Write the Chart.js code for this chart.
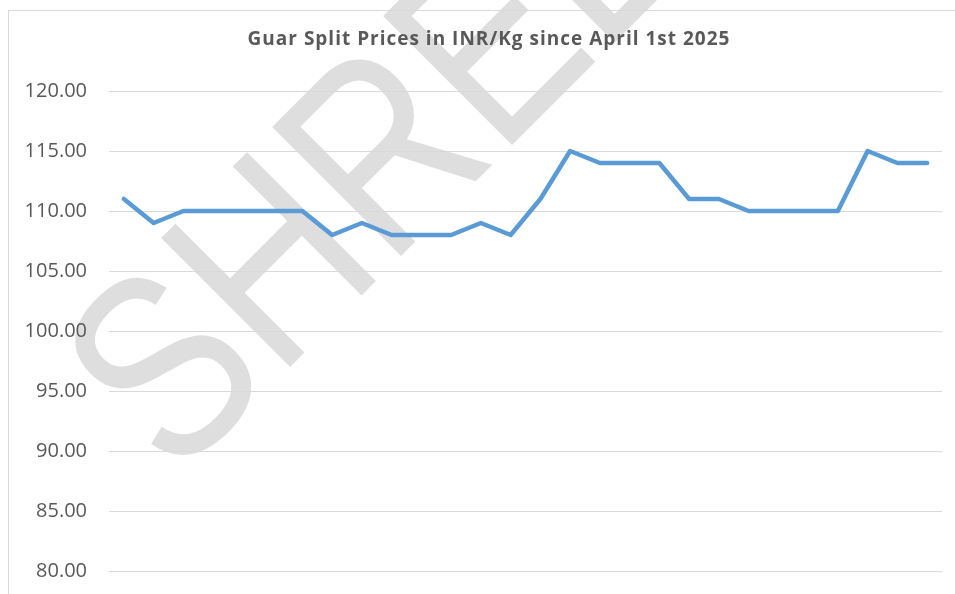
<!DOCTYPE html>
<html>
<head>
<meta charset="utf-8">
<script src="https://cdn.jsdelivr.net/npm/chart.js@4.4.1/dist/chart.umd.min.js"></script>
<style>
  html, body { margin: 0; padding: 0; background: #ffffff; overflow: hidden; }
  #wrap { position: absolute; left: 0; top: 0; width: 955px; height: 594px; }
</style>
</head>
<body>
<div id="wrap"><canvas id="c" width="955" height="594"></canvas></div>
<script>
// ---- data ----
const chartTitle = 'Guar Split Prices in INR/Kg since April 1st 2025';
const categories = ['1','2','3','4','5','6','7','8','9','10','11','12','13','14',
                    '15','16','17','18','19','20','21','22','23','24','25','26','27','28'];
const prices = [111,109,110,110,110,110,110,108,109,108,108,108,109,108,
                111,115,114,114,114,111,111,110,110,110,110,115,114,114];
const yMin = 80, yMax = 120, yStep = 5;
const watermarkText = 'SHREE';

const PLOT_BOTTOM_GAP = 23;   // plot area ends 23px above the canvas bottom

const backdrop = {
  id: 'backdrop',
  afterLayout(chart) {
    const bottom = chart.height - PLOT_BOTTOM_GAP;
    const a = chart.chartArea;
    a.bottom = bottom;
    a.height = bottom - a.top;
    const y = chart.scales.y;
    y.bottom = bottom;
    y.height = bottom - y.top;
    y.configure();
    const x = chart.scales.x;
    x.top = x.bottom = bottom;
  },
  beforeDraw(chart) {
    const ctx = chart.ctx;
    // watermark
    ctx.save();
    const size = 265;
    ctx.font = size + 'px "Liberation Sans Narrow"';
    const wNarrow = ctx.measureText('HHHH').width;
    ctx.font = size + 'px "Liberation Sans"';
    const wReg = ctx.measureText('HHHH').width;
    let sx = 1;
    if (Math.abs(wNarrow - wReg) < 1) {
      sx = 0.82;            // narrow face missing: condense the regular face
    } else {
      ctx.font = size + 'px "Liberation Sans Narrow"';
    }
    ctx.translate(175, 482);
    ctx.rotate(-Math.PI / 4);
    ctx.scale(sx, 1);
    ctx.fillStyle = '#dedede';
    ctx.textBaseline = 'alphabetic';
    ctx.textAlign = 'left';
    ctx.fillText(watermarkText, 0, 0);
    ctx.restore();
    // chart frame
    ctx.save();
    ctx.strokeStyle = '#d9d9d9';
    ctx.lineWidth = 1;
    ctx.strokeRect(8.5, 10.5, 1000, 1000);
    ctx.restore();
  },
  beforeDatasetsDraw(chart) {
    const ctx = chart.ctx;
    ctx.save();
    ctx.fillStyle = '#595959';
    ctx.font = 'bold 19px "Open Sans"';
    if ('letterSpacing' in ctx) ctx.letterSpacing = '1px';
    ctx.textAlign = 'center';
    ctx.textBaseline = 'alphabetic';
    ctx.fillText(chartTitle, 489, 44.5);
    ctx.restore();
  }
};

new Chart(document.getElementById('c'), {
  type: 'line',
  data: {
    labels: categories,
    datasets: [{
      data: prices,
      borderColor: '#5b9bd5',
      backgroundColor: '#5b9bd5',
      borderWidth: 4.5,
      pointRadius: 0,
      tension: 0,
      borderJoinStyle: 'round',
      borderCapStyle: 'round'
    }]
  },
  options: {
    responsive: false,
    animation: false,
    layout: { autoPadding: false, padding: { left: 0, right: 13, top: 91, bottom: 11 } },
    plugins: {
      legend: { display: false },
      tooltip: { enabled: false },
      title: { display: false }
    },
    scales: {
      x: {
        type: 'category',
        offset: true,
        display: false
      },
      y: {
        min: yMin,
        max: yMax,
        afterFit(scale) { scale.width = 109; },
        border: { display: false },
        grid: { color: '#d9d9d9', lineWidth: 1, drawTicks: false },
        ticks: {
          stepSize: yStep,
          padding: 22,
          color: '#595959',
          font: { family: 'Open Sans', size: 20 },
          callback: v => Number(v).toFixed(2)
        }
      }
    }
  },
  plugins: [backdrop]
});
</script>
</body>
</html>
